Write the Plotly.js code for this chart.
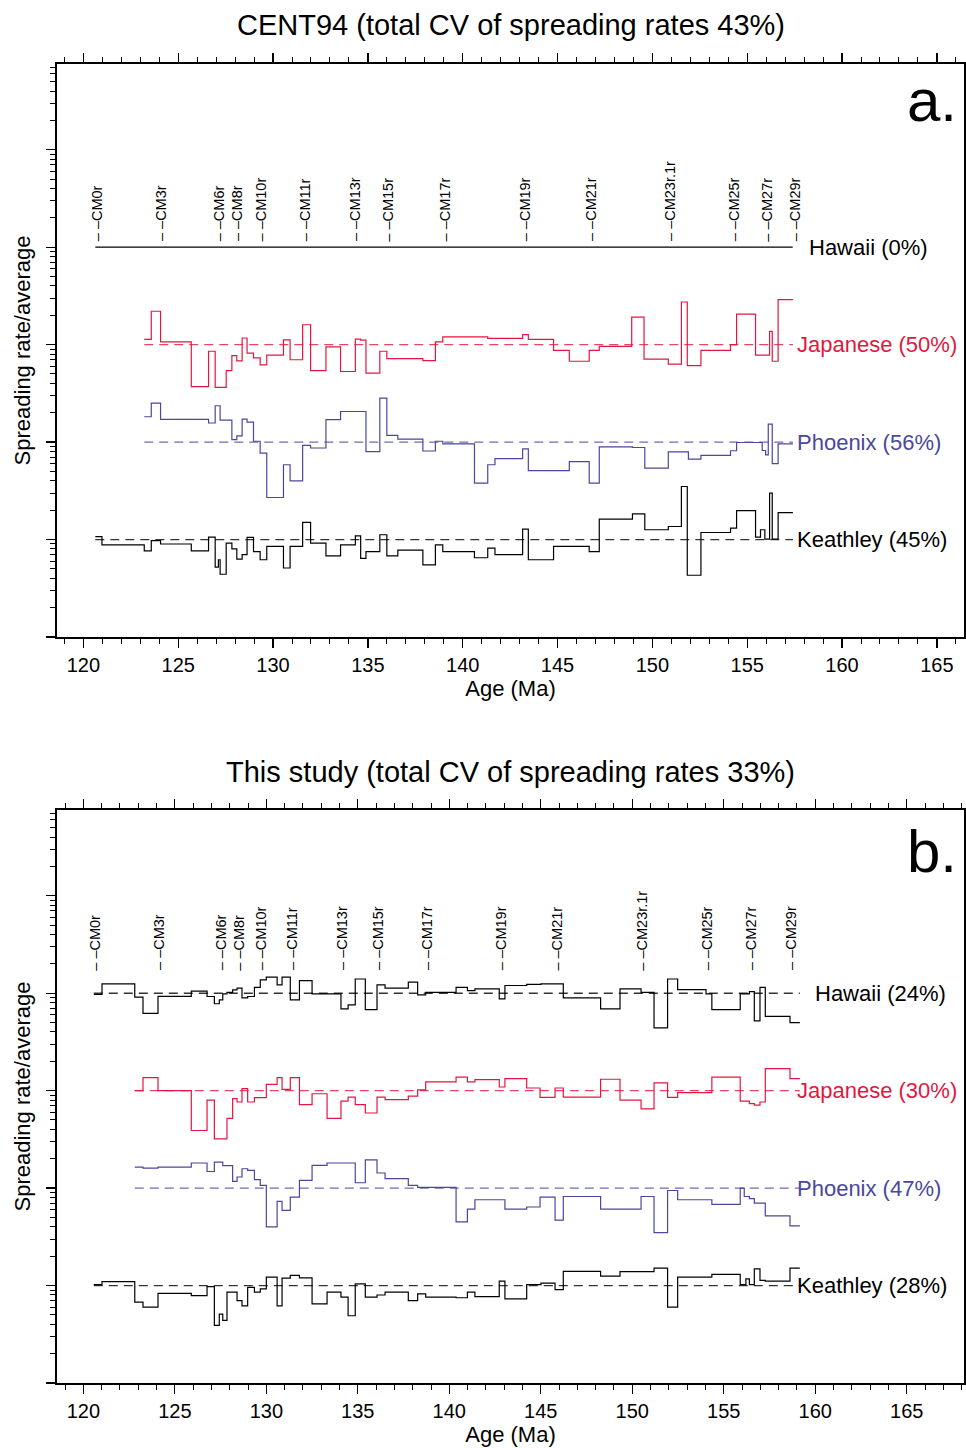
<!DOCTYPE html>
<html><head><meta charset="utf-8">
<script src="https://cdn.plot.ly/plotly-3.0.1.min.js"></script>
<style>html,body{margin:0;padding:0;background:#fff}#chart{width:966px;height:1448px}</style>
</head><body><div id="chart"></div>
<script>
// ---------------- DATA ----------------
const chronNames = ['CM0r','CM3r','CM6r','CM8r','CM10r','CM11r','CM13r','CM15r','CM17r','CM19r','CM21r','CM23r.1r','CM25r','CM27r','CM29r'];
const chronAgesA = [120.71,124.13,127.15,128.14,129.37,131.65,134.36,136.08,139.07,143.28,146.80,150.96,154.30,156.06,157.52];
const chronAgesB = [120.66,124.17,127.52,128.53,129.71,131.41,134.17,136.14,138.82,142.82,145.90,150.55,154.08,156.49,158.71];

const labelsA = ['Hawaii (0%)','Japanese (50%)','Phoenix (56%)','Keathley (45%)'];
const labelsB = ['Hawaii (24%)','Japanese (30%)','Phoenix (47%)','Keathley (28%)'];
const titleA = 'CENT94 (total CV of spreading rates 43%)';
const titleB = 'This study (total CV of spreading rates 33%)';

// Panel a (CENT94): step boundaries (Ma) and rate/average per interval
const hawA_x = [120.63, 157.40];
const hawA_r = [1.00];
const japA_x = [123.21,123.58,124.07,125.69,126.60,126.95,127.53,127.83,128.09,128.37,128.63,128.97,129.32,129.67,130.55,130.90,131.56,131.98,132.79,133.56,134.34,134.62,134.90,135.63,136.00,137.90,138.56,138.95,141.32,143.16,143.46,144.79,145.62,146.67,147.20,148.91,149.56,150.84,151.53,151.84,152.56,154.12,154.44,155.44,156.18,156.32,156.63,157.41];
const japA_r = [1.13,2.20,1.07,0.37,0.855,0.365,0.54,0.77,0.68,1.17,0.82,0.73,0.62,0.78,1.12,0.70,1.60,0.54,0.95,0.53,1.14,1.11,0.51,0.855,0.72,0.685,1.07,1.20,1.16,1.27,1.13,0.875,0.675,0.875,0.96,1.92,0.71,0.63,2.74,0.61,0.875,1.00,2.06,0.78,1.37,0.675,2.90];
const phxA_x = [123.21,123.58,124.07,126.60,126.95,127.21,127.83,128.09,128.37,128.63,128.97,129.32,129.67,130.55,130.90,131.56,131.98,132.79,133.56,134.90,135.63,136.00,136.58,137.90,138.56,138.95,140.62,141.32,141.70,143.16,143.46,145.62,146.67,147.20,148.95,149.60,150.84,151.90,152.56,154.12,154.44,155.79,155.97,156.11,156.32,156.63,157.41];
const phxA_r = [1.82,2.51,1.71,1.57,2.36,1.68,1.06,1.16,1.72,1.60,1.02,0.77,0.27,0.585,0.40,0.925,0.87,1.70,2.06,0.80,2.83,1.17,1.07,0.81,1.02,0.96,0.38,0.585,0.675,0.85,0.51,0.63,0.38,0.895,0.88,0.54,0.795,0.67,0.73,0.815,0.99,0.82,0.74,1.53,0.60,0.96];
const keaA_x = [120.63,120.98,123.21,123.58,124.07,125.69,126.60,126.95,127.12,127.21,127.53,127.83,128.09,128.37,128.63,128.97,129.32,129.67,130.55,130.90,131.56,131.98,132.79,133.56,134.34,134.62,134.90,135.63,136.00,136.58,137.90,138.56,138.95,140.62,141.32,141.70,143.16,143.46,144.79,145.62,146.67,147.20,148.95,149.60,150.84,151.53,151.84,152.56,154.12,154.44,155.44,155.70,155.93,156.18,156.32,156.63,157.41];
const keaA_r = [1.07,0.88,0.765,0.975,0.90,0.765,1.06,0.52,0.62,0.44,0.92,0.80,0.63,0.70,1.05,0.75,0.62,0.85,0.51,0.85,1.50,0.92,0.68,0.88,1.09,0.64,0.75,1.12,0.68,0.78,0.55,0.88,0.75,0.65,0.815,0.70,1.28,0.62,0.85,0.85,0.75,1.62,1.83,1.26,1.36,3.50,0.43,1.18,1.31,1.98,1.06,1.26,1.01,2.99,1.01,1.89];

// Panel b (this study)
const hawB_x = [120.57,121.02,122.81,123.26,124.08,125.90,126.76,127.16,127.43,127.62,127.85,128.16,128.40,128.67,128.98,129.35,129.67,130.00,130.59,130.86,131.31,131.81,132.50,134.08,134.47,134.86,135.41,136.05,136.49,137.76,138.27,138.71,140.37,140.99,141.40,142.73,143.04,144.23,145.01,146.23,148.27,149.33,150.48,151.19,151.93,152.48,154.03,154.35,155.90,156.40,156.67,156.98,157.27,158.62,159.16];
const hawB_r = [0.97,1.25,0.91,0.62,0.93,1.05,0.925,0.78,0.855,0.985,1.02,1.08,1.13,0.895,0.925,1.15,1.37,1.46,1.22,1.46,0.855,1.35,0.985,0.69,0.76,1.40,0.68,1.22,1.13,1.30,0.96,1.02,1.15,1.065,1.11,0.875,1.20,1.23,1.25,0.895,0.69,1.11,1.02,0.44,1.40,1.09,0.985,0.68,0.985,1.04,0.52,1.15,0.58,0.50];
const japB_x = [122.81,123.26,124.08,125.90,126.76,127.16,127.85,128.16,128.40,128.67,128.98,129.35,130.00,130.59,130.86,131.31,131.81,132.50,133.32,134.08,134.47,134.86,135.41,136.05,136.49,137.76,138.27,138.71,140.37,140.99,141.40,142.73,143.04,144.23,144.96,145.78,146.23,148.27,149.33,150.48,151.19,151.93,152.48,154.35,155.90,156.40,156.67,156.98,157.27,158.62,159.16];
const japB_r = [1.00,1.36,1.00,0.39,0.80,0.32,0.52,0.83,0.765,1.05,0.765,0.85,1.16,1.36,1.03,1.36,0.72,0.93,0.52,0.78,0.86,0.72,0.59,0.86,0.81,0.88,1.02,1.23,1.38,1.23,1.30,1.09,1.33,1.065,0.855,1.065,0.86,1.31,0.80,0.65,1.20,0.855,0.955,1.38,0.78,0.735,0.71,0.765,1.68,1.33];
const phxB_x = [122.81,123.26,124.08,125.90,126.76,127.16,127.62,128.16,128.40,128.67,128.98,129.35,129.67,130.00,130.59,130.86,131.31,131.81,132.50,133.32,134.86,135.41,136.05,136.49,137.76,138.27,140.37,140.99,141.40,143.04,144.23,144.96,145.78,146.23,148.27,150.48,151.19,151.93,152.48,154.35,155.90,156.12,156.40,156.67,157.27,158.62,159.16];
const phxB_r = [1.64,1.60,1.64,1.81,1.48,1.85,1.70,1.17,1.30,1.58,1.52,1.22,1.065,0.40,0.73,0.59,0.81,1.20,1.71,1.81,1.135,1.95,1.43,1.25,1.065,1.02,0.45,0.61,0.76,0.61,0.64,0.81,0.47,0.82,0.61,0.82,0.35,0.945,0.76,0.68,1.00,0.82,0.78,0.70,0.52,0.41];
const keaB_x = [120.57,121.02,122.81,123.26,124.08,125.90,126.76,127.16,127.43,127.62,127.85,128.40,128.67,128.98,129.35,129.67,130.00,130.59,130.86,131.31,131.81,132.50,133.32,134.08,134.47,134.86,135.41,136.05,136.49,137.76,138.27,138.71,140.37,140.99,141.40,142.73,143.04,144.23,145.01,145.78,146.23,148.27,149.33,151.19,151.93,152.48,154.35,155.90,156.21,156.40,156.67,156.98,157.27,158.62,159.16];
const keaB_r = [1.02,1.10,0.675,0.60,0.83,0.79,0.975,0.39,0.51,0.44,0.855,0.70,0.62,0.96,0.855,0.925,1.22,0.62,1.19,1.27,1.20,0.65,0.855,0.76,0.49,1.04,0.76,0.80,0.855,0.70,0.82,0.76,0.75,0.855,0.77,1.11,0.73,1.02,1.06,0.91,1.40,1.25,1.39,1.51,0.60,1.22,1.30,1.02,1.17,1.02,1.48,1.13,1.11,1.51];

// ---------------- STYLE / LAYOUT ----------------
const FONT = 'Liberation Sans, Arial, Helvetica, sans-serif';
const RED = '#e2173f', BLUE = '#4a479c', BLACK = '#000000';
const OFFSET = [1000, 100, 10, 1];          // Hawaii, Japanese, Phoenix, Keathley (one decade apart)
const COLORS = [BLACK, RED, BLUE, BLACK];

function stepTrace(xs, rs, off, color, xa, ya) {
  const ys = xs.map((_, i) => (rs[Math.min(i, rs.length - 1)]) * off);
  return {x: xs, y: ys, type: 'scatter', mode: 'lines', xaxis: xa, yaxis: ya,
          line: {shape: 'hv', color: color, width: 1.2}, hoverinfo: 'skip', showlegend: false};
}
function baseTrace(xs, off, color, xa, ya) {
  return {x: [xs[0], xs[xs.length - 1]], y: [off, off], type: 'scatter', mode: 'lines', xaxis: xa, yaxis: ya,
          line: {color: color, width: 1.3, dash: '9px,6px'}, opacity: 0.8, hoverinfo: 'skip', showlegend: false};
}

const traces = [];
// panel a
traces.push(stepTrace(hawA_x, hawA_r, OFFSET[0], BLACK, 'x', 'y'));
[[japA_x, japA_r], [phxA_x, phxA_r], [keaA_x, keaA_r]].forEach((s, i) => {
  traces.push(baseTrace(s[0], OFFSET[i + 1], COLORS[i + 1], 'x', 'y'));
  traces.push(stepTrace(s[0], s[1], OFFSET[i + 1], COLORS[i + 1], 'x', 'y'));
});
// panel b
[[hawB_x, hawB_r], [japB_x, japB_r], [phxB_x, phxB_r], [keaB_x, keaB_r]].forEach((s, i) => {
  traces.push(baseTrace(s[0], OFFSET[i], COLORS[i], 'x2', 'y2'));
  traces.push(stepTrace(s[0], s[1], OFFSET[i], COLORS[i], 'x2', 'y2'));
});

const annotations = [];
function chronAnn(ages, xr, yr, ylog) {
  ages.forEach((a, i) => annotations.push({
    x: a, y: ylog, xref: xr, yref: yr, text: '\u2013 \u2013' + chronNames[i], textangle: -90,
    showarrow: false, xanchor: 'center', yanchor: 'bottom', borderpad: 0,
    font: {family: FONT, size: 14.5, color: BLACK}
  }));
}
chronAnn(chronAgesA, 'x', 'y', 3.05);
chronAnn(chronAgesB, 'x2', 'y2', 3.225);

const labXA = [158.20, 157.57, 157.57, 157.57];
const labXB = [159.91, 158.93, 158.95, 158.95];
labelsA.forEach((t, i) => annotations.push({x: labXA[i], y: Math.log10(OFFSET[i]), xref: 'x', yref: 'y', text: t,
  showarrow: false, xanchor: 'left', yanchor: 'middle', borderpad: 0, font: {family: FONT, size: 22, color: COLORS[i]}}));
labelsB.forEach((t, i) => annotations.push({x: labXB[i], y: Math.log10(OFFSET[i]), xref: 'x2', yref: 'y2', text: t,
  showarrow: false, xanchor: 'left', yanchor: 'middle', borderpad: 0, font: {family: FONT, size: 22, color: COLORS[i]}}));

annotations.push({x: 0.5, y: 1.0296, xref: 'paper', yref: 'paper', text: titleA, showarrow: false,
  xanchor: 'center', yanchor: 'middle', font: {family: FONT, size: 29, color: BLACK}});
annotations.push({x: 0.5, y: 0.4632, xref: 'paper', yref: 'paper', text: titleB, showarrow: false,
  xanchor: 'center', yanchor: 'middle', font: {family: FONT, size: 29, color: BLACK}});
annotations.push({x: 0.994, y: 0.972, xref: 'paper', yref: 'paper', text: 'a.', showarrow: false,
  xanchor: 'right', yanchor: 'middle', font: {family: FONT, size: 60, color: BLACK}});
annotations.push({x: 0.994, y: 0.4026, xref: 'paper', yref: 'paper', text: 'b.', showarrow: false,
  xanchor: 'right', yanchor: 'middle', font: {family: FONT, size: 60, color: BLACK}});

function xAxis(range, anchor) {
  return {range: range, anchor: anchor, domain: [0, 1], tickmode: 'linear', tick0: 0, dtick: 5,
    ticks: 'outside', ticklen: 9, tickwidth: 1.3, tickcolor: BLACK, ticklabelstandoff: 0,
    minor: {ticks: 'outside', ticklen: 5, tickwidth: 1, tickcolor: BLACK, dtick: 1, showgrid: false},
    showline: true, linewidth: 1.8, linecolor: BLACK, mirror: 'ticks', showgrid: false, zeroline: false,
    tickfont: {family: FONT, size: 20, color: BLACK},
    title: {text: 'Age (Ma)', font: {family: FONT, size: 22, color: BLACK}, standoff: 4}};
}
function yAxis(domain, anchor) {
  return {type: 'log', range: [-1, 4.88], domain: domain, anchor: anchor, tickmode: 'linear', tick0: 0, dtick: 1,
    showticklabels: false, ticks: 'outside', ticklen: 9, tickwidth: 1.3, tickcolor: BLACK,
    minor: {ticks: 'outside', ticklen: 5, tickwidth: 1, tickcolor: BLACK, dtick: 'D1', showgrid: false},
    showline: true, linewidth: 1.8, linecolor: BLACK, mirror: 'ticks', showgrid: false, zeroline: false,
    title: {text: 'Spreading rate/average', font: {family: FONT, size: 22, color: BLACK}, standoff: 9}};
}

const layout = {
  width: 966, height: 1448, paper_bgcolor: '#fff', plot_bgcolor: '#fff',
  margin: {l: 57, r: 2, t: 64, b: 65}, showlegend: false,
  font: {family: FONT, color: BLACK},
  xaxis: xAxis([118.61, 166.43], 'y'),
  yaxis: yAxis([0.5656, 1], 'x'),
  xaxis2: xAxis([118.56, 168.13], 'y2'),
  yaxis2: yAxis([0, 0.4344], 'x2'),
  annotations: annotations
};

Plotly.newPlot('chart', traces, layout, {displayModeBar: false, staticPlot: true});
</script></body></html>
